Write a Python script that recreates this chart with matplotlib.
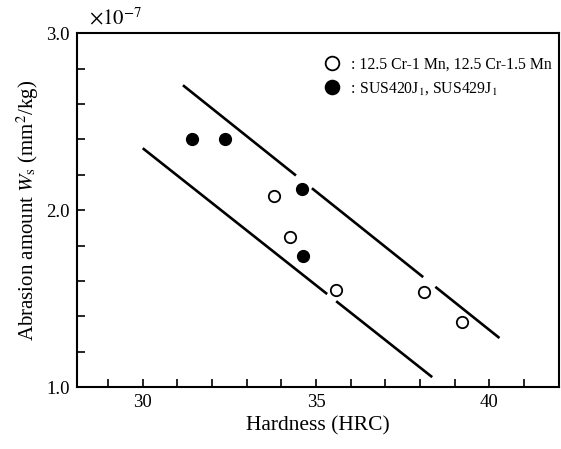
import numpy as np
import matplotlib
matplotlib.use("Agg")
import matplotlib.pyplot as plt
from matplotlib.ticker import MultipleLocator

plt.rcParams['font.family'] = ['Liberation Serif', 'DejaVu Serif']
plt.rcParams['mathtext.fontset'] = 'stix'

# hardness (HRC) vs abrasion amount (x1e-7 mm^2/kg)
cr_mn_hrc = [33.79, 34.25, 35.58, 38.12, 39.22]
cr_mn_ws = [2.08, 1.85, 1.55, 1.54, 1.37]
sus_hrc = [31.42, 32.37, 34.60, 34.62]
sus_ws = [2.40, 2.40, 2.12, 1.74]

# scatter band boundaries (end points) and the breaks drawn in them
upper_x = [31.16, 40.29]
upper_y = [2.706, 1.277]
upper_gaps = [(34.42, 34.88), (38.09, 38.44)]
lower_x = [30.0, 38.35]
lower_y = [2.35, 1.056]
lower_gaps = [(35.32, 35.58)]


def broken_line(ax, xs, ys, gaps):
    edges = [xs[0]]
    for g0, g1 in gaps:
        edges += [g0, g1]
    edges.append(xs[1])
    for a, b in zip(edges[0::2], edges[1::2]):
        sx = np.array([a, b])
        ax.plot(sx, np.interp(sx, xs, ys), color='black', lw=1.9,
                solid_capstyle='butt')


fig = plt.figure(figsize=(5.61, 4.49), dpi=100)
ax = fig.add_axes([0.137, 0.138, 0.859, 0.788])

broken_line(ax, upper_x, upper_y, upper_gaps)
broken_line(ax, lower_x, lower_y, lower_gaps)

ax.plot(cr_mn_hrc, cr_mn_ws, 'o', ms=8.2, mfc='white', mec='black', mew=1.3,
        label=' : 12.5 Cr-1 Mn, 12.5 Cr-1.5 Mn')
ax.plot(sus_hrc, sus_ws, 'o', ms=8.5, mfc='black', mec='black',
        label=' : SUS420J$_1$, SUS429J$_1$')

ax.set_xlim(28.1, 42)
ax.set_ylim(1.0, 3.0)
ax.xaxis.set_major_locator(MultipleLocator(5))
ax.xaxis.set_minor_locator(MultipleLocator(1))
ax.yaxis.set_major_locator(MultipleLocator(1))
ax.yaxis.set_minor_locator(MultipleLocator(0.2))
ax.yaxis.set_major_formatter(plt.FormatStrFormatter('%.1f'))
ax.tick_params(which='both', direction='in', length=6, width=1.2,
               top=False, right=False, labelsize=13.5, pad=5)

for s in ax.spines.values():
    s.set_linewidth(1.5)

ax.set_xlabel('Hardness (HRC)', fontsize=15.5, labelpad=4)
ax.set_ylabel('Abrasion amount $W_{\\rm s}$ (mm$^2$/kg)', fontsize=15, labelpad=4)
ax.text(0.025, 1.012, r'$\times 10^{-7}$', transform=ax.transAxes,
        fontsize=15, ha='left', va='bottom')

ax.legend(loc='upper right', bbox_to_anchor=(1.012, 0.97), frameon=False,
          fontsize=11.3, handletextpad=0.0, labelspacing=0.5, markerscale=1.2,
          borderpad=0.3)

fig.savefig('out.png', dpi=100)
